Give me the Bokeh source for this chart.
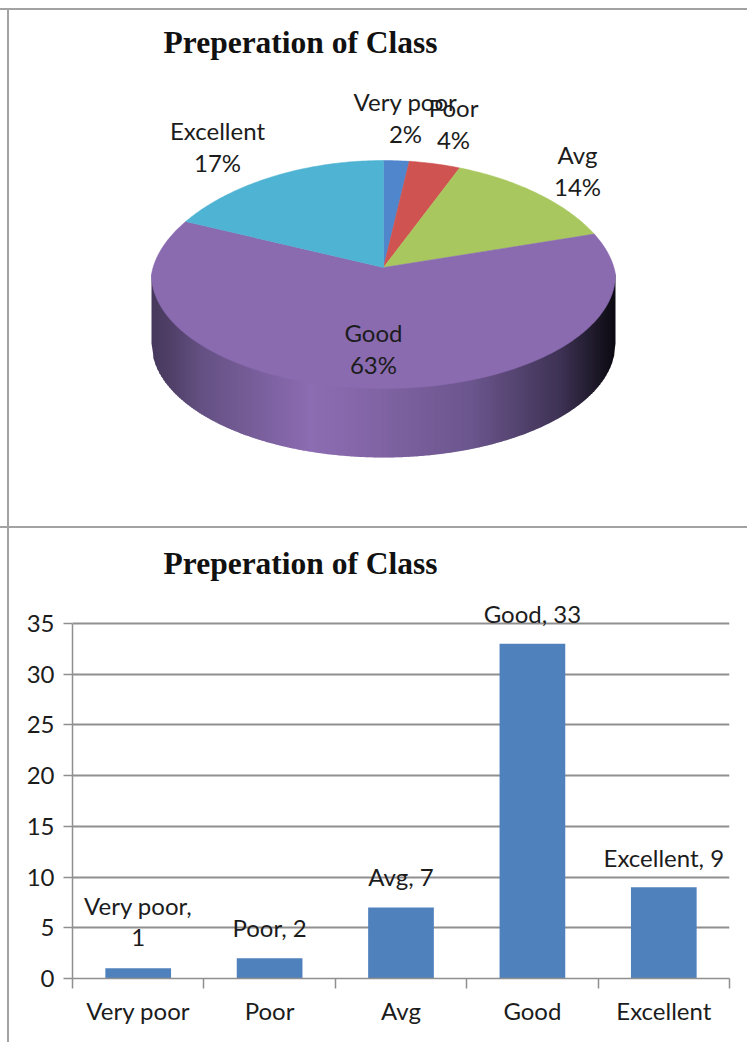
import math
from bokeh.embed import file_html
from bokeh.resources import INLINE
from bokeh.core.properties import value
from bokeh.layouts import column
from bokeh.models import (ColumnDataSource, FixedTicker, Range1d, Title)
from bokeh.plotting import figure

# ---- data
categories = ["Very poor", "Poor", "Avg", "Good", "Excellent"]
counts = [1, 2, 7, 33, 9]
pie_percent_labels = ["2%", "4%", "14%", "63%", "17%"]
bar_labels = ["Very poor,\n1", "Poor, 2", "Avg, 7", "Good, 33", "Excellent, 9"]
y_ticks = [0, 5, 10, 15, 20, 25, 30, 35]
title_text = "Preperation of Class"

# ---- styles / layout
FONT = "Lato"
TEXT = "#1c1c1c"
BORDER = "#a3a3a3"
pie_colors = ["#4f86cc", "#cf5350", "#a8c75f", "#8a6bb0", "#4fb3d3"]
bar_color = "#4f81bd"
W = 747
PIE_H, BAR_H = 524, 518
CX, CY, APEX_Y, RX, RY, DEPTH = 383, 274, 267, 232, 114, 69
BACK_NARROW = 0.08
label_x = [405, 453, 577, 373, 217]
label_y = [117, 123, 170, 348, 146]
bar_label_offsets = [-47, -31, -31, -30, -30]
side_stops = [(151, (70, 56, 92)), (175, (82, 66, 108)), (200, (100, 80, 130)), (310, (140, 108, 178)),
              (350, (134, 104, 170)), (470, (108, 86, 142)), (560, (62, 50, 84)),
              (600, (24, 20, 34)), (614, (12, 10, 18))]


def border_styles(top_px):
    """Thin grey rules painted behind the transparent plot canvas."""
    g = f"linear-gradient({BORDER},{BORDER})"
    return {"background-image": f"{g},{g}",
            "background-size": "100% 2px,2px 100%",
            "background-position": f"0 {top_px}px,7px {top_px if top_px > 2 else 0}px",
            "background-repeat": "no-repeat"}


def side_color(x):
    for (x0, c0), (x1, c1) in zip(side_stops, side_stops[1:]):
        if x <= x1:
            t = (x - x0) / (x1 - x0)
            return "#%02x%02x%02x" % tuple(round(a + (b - a) * t) for a, b in zip(c0, c1))
    return "#0c0a12"


def lower_edge(x):
    return CY + DEPTH + RY * math.sqrt(max(0.0, 1 - ((x - CX) / RX) ** 2))


# ---- pie
pie = figure(width=W, height=PIE_H, x_range=Range1d(0, W), y_range=Range1d(PIE_H, 60),
             x_axis_type=None, y_axis_type=None, toolbar_location=None, output_backend="svg",
             min_border_left=0, min_border_right=0, min_border_top=60, min_border_bottom=0,
             outline_line_color=None, background_fill_color=None, border_fill_color=None,
             frame_align=False, styles=border_styles(8))
pie.grid.visible = False
pie.title = Title(text=title_text, text_font="Liberation Serif", text_font_size="31.5px",
                  text_font_style="bold", text_color="#111111", align="left", offset=163, standoff=2)

# side of the cylinder, drawn as vertical strips under the top face
sxs, sys, scs = [], [], []
for x0 in range(CX - RX, CX + RX, 2):
    x1 = min(x0 + 2, CX + RX)
    xe = min(x1 + 0.7, CX + RX)
    sxs.append([x0, xe, xe, x0])
    sys.append([CY, CY, lower_edge(xe), lower_edge(x0)])
    scs.append(side_color(x0 + 1))
pie.patches(sxs, sys, fill_color=scs, line_color=None)

# top face
total = sum(counts)
xs, ys = [], []
cum = 0
for v in counts:
    a0, a1 = cum / total * 2 * math.pi, (cum + v) / total * 2 * math.pi
    cum += v
    n = max(4, int((a1 - a0) * 60))
    angs = [a0 + (a1 - a0) * k / n for k in range(n + 1)]
    xs.append([CX] + [CX + RX * math.sin(a) * (1 - BACK_NARROW * max(0.0, math.cos(a))) for a in angs])
    ys.append([APEX_Y] + [CY - RY * math.cos(a) for a in angs])
pie.patches(xs, ys, fill_color=pie_colors, line_color=pie_colors, line_width=0.5)

pie_src = ColumnDataSource(dict(x=label_x, y=label_y,
                                t=[f"{c}\n{p}" for c, p in zip(categories, pie_percent_labels)]))
pie.text("x", "y", text="t", source=pie_src, text_font=value(FONT), text_font_size="24px",
         text_color=TEXT, text_align="center", text_baseline="middle", text_line_height=1.07)

# ---- bars
xc = [i + 0.5 for i in range(len(categories))]
bar = figure(width=W, height=BAR_H, x_range=Range1d(0, 5), y_range=Range1d(0, 38.25),
             toolbar_location=None, output_backend="svg",
             min_border_left=72, min_border_right=18, min_border_top=66, min_border_bottom=64,
             outline_line_color=None, background_fill_color=None, border_fill_color=None,
             frame_align=False, styles=border_styles(2))
bar.title = Title(text=title_text, text_font="Liberation Serif", text_font_size="31.5px",
                  text_font_style="bold", text_color="#111111", align="left", offset=91, standoff=19)
bar.xgrid.visible = False
bar.ygrid.ticker = FixedTicker(ticks=y_ticks)
bar.ygrid.grid_line_color = "#8f8f8f"
bar.ygrid.grid_line_width = 2
bar.yaxis.ticker = FixedTicker(ticks=y_ticks)
bar.yaxis.bounds = (0, 35)
bar.xaxis.ticker = FixedTicker(ticks=xc, minor_ticks=list(range(len(categories) + 1)))
bar.xaxis.major_label_overrides = dict(zip(xc, categories))
for ax in (bar.xaxis[0], bar.yaxis[0]):
    ax.axis_line_color = "#8f8f8f"
    ax.axis_line_width = 1.5
    ax.major_label_text_font = FONT
    ax.major_label_text_font_size = "24px"
    ax.major_label_text_color = TEXT
    ax.major_tick_line_color = "#8f8f8f"
    ax.major_tick_line_width = 1.5
    ax.major_tick_in = 0
    ax.minor_tick_in = 0
bar.yaxis.major_tick_out = 9
bar.yaxis.minor_tick_line_color = None
bar.yaxis.major_label_standoff = 9
bar.xaxis.major_tick_out = 0
bar.xaxis.minor_tick_out = 10
bar.xaxis.minor_tick_line_color = "#8f8f8f"
bar.xaxis.minor_tick_line_width = 1.5
bar.xaxis.major_label_standoff = 7

bar_src = ColumnDataSource(dict(x=xc, top=counts, t=bar_labels, off=bar_label_offsets))
bar.vbar(x="x", top="top", bottom=0, width=0.5, source=bar_src, fill_color=bar_color, line_color=None)
bar.text("x", "top", text="t", y_offset="off", source=bar_src, text_font=value(FONT),
         text_font_size="24px", text_color=TEXT, text_align="center", text_baseline="middle",
         text_line_height=1.07)

open("out.html", "w").write(file_html(column(pie, bar, spacing=0), INLINE))
